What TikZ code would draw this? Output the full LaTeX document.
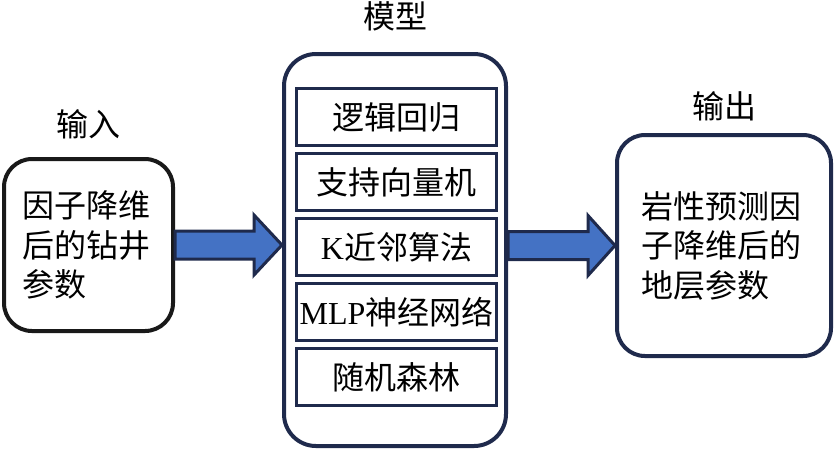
\documentclass[tikz,border=0pt]{standalone}
\usepackage{fontspec}
\setmainfont{Liberation Serif}
\newfontfamily\cjk{Noto Sans CJK SC}
\usepackage{tikz}
\usetikzlibrary{positioning, calc}
\definecolor{navy}{HTML}{1F2A4C}
\definecolor{arrowblue}{HTML}{4472C4}

\begin{document}
\begin{tikzpicture}[x=1pt, y=-1pt,
    every node/.style={font=\cjk\fontsize{32}{39.5}\selectfont},
    bigbox/.style={draw, line width=4pt, rounded corners=28pt, align=left},
    algbox/.style={draw=navy, line width=3pt, minimum width=200pt, minimum height=57pt, inner sep=0pt},
    bigarrow/.style={draw=navy, line width=3pt, fill=arrowblue, line join=miter}]
          \useasboundingbox (0,0) rectangle (834,451);

          \node[bigbox, draw=black!90, minimum width=169pt, minimum height=172pt, text width=132pt] (in) at (88.5,245)
            {因子降维\\后的钻井\\参数};
          \node[bigbox, draw=navy, minimum width=222pt, minimum height=392pt, rounded corners=32pt] (model) at (395,250) {};
          \node[bigbox, draw=navy, minimum width=214pt, minimum height=221pt, text width=165pt] (out) at (724,245.5)
            {岩性预测因\\子降维后的\\地层参数};

          \node[above=14pt of in] (inlabel) {输入};
          \node[above=17pt of model] (modellabel) {模型};
          \node[above=8pt of out] (outlabel) {输出};

          \node[algbox] (m1) at (396.5,117) {逻辑回归};
          \node[algbox, below=5pt of m1] (m2) {支持向量机};
          \node[algbox, below=5pt of m2] (m3) {{\rmfamily K}近邻算法};
          \node[algbox, below=5pt of m3] (m4) {{\rmfamily MLP}神经网络};
          \node[algbox, below=5pt of m4] (m5) {随机森林};

          \draw[bigarrow] ($(in.east)+(0,-14)$) -- ($(model.west |- in.east)+(-28,-14)$) -- ++(0,-16)
            -- (model.west |- in.east) -- ++(-28,30) -- ++(0,-16) -- ($(in.east)+(0,14)$) -- cycle;
          \draw[bigarrow] ($(model.east |- out.west)+(0,-14)$) -- ($(out.west)+(-27,-14)$) -- ++(0,-16)
            -- (out.west) -- ++(-27,30) -- ++(0,-16) -- ($(model.east |- out.west)+(0,14)$) -- cycle;
        \end{tikzpicture}
\end{document}
